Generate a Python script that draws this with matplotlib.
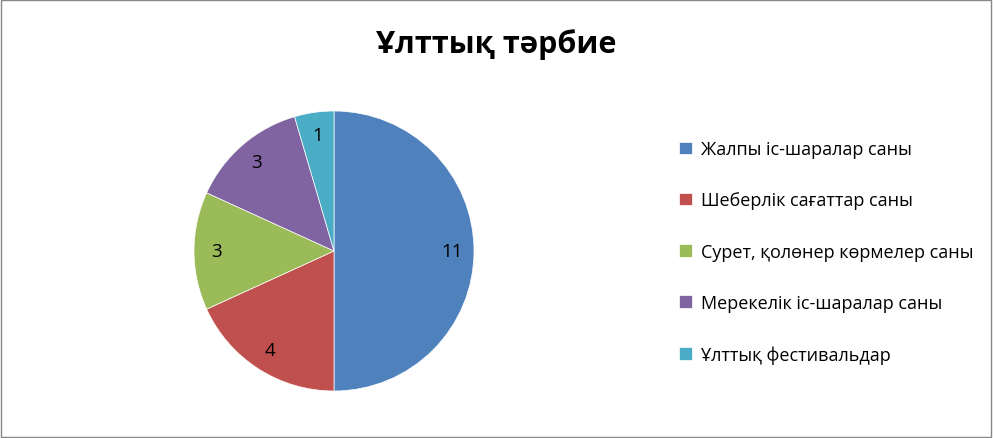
import matplotlib.pyplot as plt
from matplotlib.patches import Rectangle

plt.rcParams['font.family'] = ['Open Sans', 'DejaVu Sans']

labels = ['Жалпы іс-шаралар саны', 'Шеберлік сағаттар саны',
          'Сурет, қолөнер көрмелер саны', 'Мерекелік іс-шаралар саны',
          'Ұлттық фестивальдар']
values = [11, 4, 3, 3, 1]
colors = ['#4F81BD', '#C0504D', '#9BBB59', '#8064A2', '#4BACC6']

fig = plt.figure(figsize=(9.93, 4.39), dpi=100)
fig.patches.append(Rectangle((0.001, 0.002), 0.997, 0.995, transform=fig.transFigure,
                             fill=False, edgecolor='#888888', linewidth=1))

# pie: centre (334, 252) px, radius 140 px
ax = fig.add_axes([(334 - 140) / 993, (439 - 252 - 140) / 439, 280 / 993, 280 / 439])
wedges, texts = ax.pie(values, colors=colors, startangle=90, counterclock=False,
                       labels=[str(v) for v in values], labeldistance=0.84,
                       wedgeprops=dict(edgecolor='white', linewidth=0.5),
                       textprops=dict(fontsize=13.5, color='black'))
for t in texts:
    t.set_ha('center')
    t.set_va('center')
ax.set_xlim(-1, 1)
ax.set_ylim(-1, 1)
ax.set_aspect('equal')

fig.text(496 / 993, 1 - 45 / 439, 'Ұлттық тәрбие', ha='center', va='center',
         fontsize=22, fontweight='bold')

fig.legend(wedges, labels, loc='upper left', bbox_to_anchor=(672 / 993, 1 - 134 / 439),
           frameon=False, fontsize=13, labelspacing=1.84, handlelength=0.7,
           handleheight=0.7, handletextpad=0.5, borderaxespad=0)

fig.savefig('out.png', dpi=100)
